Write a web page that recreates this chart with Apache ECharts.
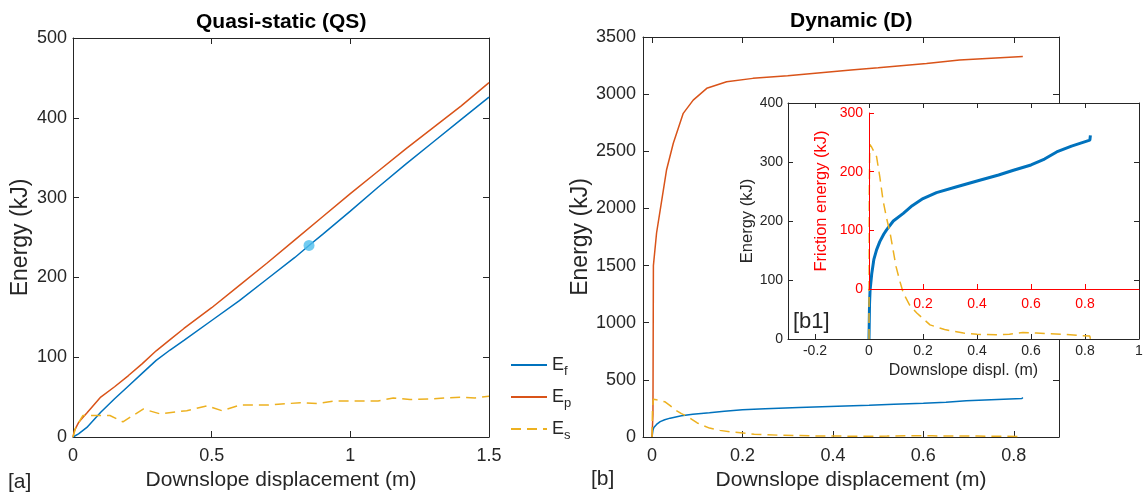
<!DOCTYPE html>
<html>
<head>
<meta charset="utf-8">
<script src="https://cdn.jsdelivr.net/npm/echarts@6/dist/echarts.min.js"></script>
<style>
  html, body { margin: 0; background: #fff; }
  #chart { width: 1146px; height: 496px; }
</style>
</head>
<body>
<div id="chart"></div>
<script>
// Quasi-static (QS) run, [downslope displacement (m), energy (kJ)]
var qsEf = [[0,0],[0.02,4],[0.05,12],[0.1,31],[0.15,48],[0.2,64],[0.25,80],[0.3,96],[0.35,109],[0.4,121],[0.5,146],[0.6,171],[0.7,198],[0.8,225],[0.851,240],[0.9,254],[1.0,283],[1.1,313],[1.2,342],[1.3,370],[1.4,398],[1.5,426]];
var qsEp = [[0,0],[0.005,8],[0.02,18],[0.037,25],[0.05,30],[0.1,50],[0.15,63],[0.2,77],[0.25,92],[0.3,108],[0.35,122],[0.4,136],[0.5,162],[0.6,190],[0.7,218],[0.8,247],[0.9,276],[1.0,305],[1.1,333],[1.2,361],[1.3,388],[1.4,415],[1.5,444]];
var qsEs = [[0,0],[0.01,12],[0.036,27],[0.08,27],[0.133,27],[0.18,19],[0.253,35],[0.314,29],[0.41,33],[0.483,39],[0.537,33],[0.603,40],[0.7,40],[0.82,43],[0.88,42],[0.94,45],[1.1,45],[1.155,49],[1.215,47],[1.3,48],[1.4,50],[1.45,49],[1.5,51]];
var qsMarker = [[0.851, 240]];

// Dynamic (D) run
var dEf = [[0,0],[0.002,60],[0.004,83],[0.01,110],[0.018,135],[0.028,151],[0.04,165],[0.055,178],[0.065,185],[0.09,200],[0.127,213],[0.16,226],[0.2,238],[0.25,248],[0.325,258],[0.41,269],[0.48,278],[0.535,286],[0.6,295],[0.65,305],[0.695,317],[0.75,327],[0.818,337],[0.82,345]];
var dEp = [[0,0],[0.002,200],[0.003,1500],[0.01,1785],[0.018,1986],[0.032,2336],[0.047,2570],[0.069,2832],[0.091,2948],[0.121,3051],[0.165,3109],[0.223,3138],[0.3,3160],[0.44,3211],[0.5,3230],[0.607,3269],[0.68,3298],[0.75,3315],[0.82,3330]];
var dEs = [[0,0],[0.001,250],[0.003,330],[0.01,325],[0.028,309],[0.04,275],[0.052,235],[0.065,205],[0.078,180],[0.1,123],[0.113,100],[0.127,78],[0.15,58],[0.177,44],[0.226,24],[0.28,16],[0.35,10],[0.4,8],[0.47,7],[0.52,8],[0.57,11],[0.62,10],[0.66,9],[0.72,8],[0.78,6],[0.818,5],[0.82,0]];

var dTicks = [0, 0.2, 0.4, 0.6, 0.8];
var insetTicks = [-0.2, 0, 0.2, 0.4, 0.6, 0.8, 1];
var frictionXTicks = [0.2, 0.4, 0.6, 0.8];

var ink = '#262626';
var cBlue = '#0072BD', cOrange = '#D95319', cYellow = '#EDB120', cMarker = '#4DBEEE', cRed = '#FF0000';
var font = 'Helvetica, "Liberation Sans", Arial, sans-serif';

function plain(v) { return String(+(+v).toFixed(6)); }

function axis(grid, pos, min, max, o) {
  o = o || {};
  var col = o.color || ink;
  var a = {
    type: 'value', gridIndex: grid, position: pos, min: min, max: max,
    splitLine: { show: false },
    axisLine: { show: true, onZero: false, lineStyle: { color: col, width: 1 } },
    axisTick: { show: true, inside: true, length: o.tick || 6, lineStyle: { color: col } },
    axisLabel: { show: !!o.labels, color: col, fontSize: o.fs || 18, fontFamily: font, margin: o.margin || 8, formatter: plain },
    z: o.z || 0
  };
  if (o.interval) a.interval = o.interval;
  if (o.ticks) { a.axisTick.customValues = o.ticks; a.axisLabel.customValues = o.ticks; }
  if (o.name) {
    a.name = o.name; a.nameLocation = 'middle'; a.nameGap = o.gap;
    a.nameTextStyle = { color: col, fontSize: o.nfs || 21, fontFamily: font };
  }
  return a;
}

function line(name, data, color, xi, yi, o) {
  o = o || {};
  return {
    name: name, type: 'line', data: data, xAxisIndex: xi, yAxisIndex: yi,
    showSymbol: false, symbol: 'none', animation: false, clip: true,
    lineStyle: { color: color, width: o.width || 1.5, type: o.dash ? [10, 6] : 'solid' },
    itemStyle: { color: color }, z: o.z || 2
  };
}

var chart = echarts.init(document.getElementById('chart'));
chart.setOption({
  animation: false,
  textStyle: { fontFamily: font },
  grid: [
    { left: 73, right: 657, top: 38, bottom: 58 },
    { left: 643, right: 87, top: 37, bottom: 59 },
    { left: 788, right: 7, top: 103, bottom: 157, show: true, backgroundColor: '#fff', borderWidth: 0, z: 5 },
    { left: 869, right: 7, top: 113, bottom: 207, z: 8 }
  ],
  xAxis: [
    axis(0, 'bottom', 0, 1.5, { interval: 0.5, labels: true, margin: 10, name: 'Downslope displacement (m)', gap: 33 }),
    axis(0, 'top', 0, 1.5, { interval: 0.5 }),
    axis(1, 'bottom', -0.02, 0.9, { ticks: dTicks, labels: true, margin: 10, name: 'Downslope displacement (m)', gap: 33 }),
    axis(1, 'top', -0.02, 0.9, { ticks: dTicks }),
    axis(2, 'bottom', -0.3, 1, { ticks: insetTicks, labels: true, fs: 14, margin: 5, tick: 5, z: 6, name: 'Downslope displ. (m)', gap: 24, nfs: 16 }),
    axis(2, 'top', -0.3, 1, { ticks: insetTicks, tick: 5, z: 6 }),
    axis(3, 'bottom', 0, 1, { ticks: frictionXTicks, labels: true, fs: 14, margin: 8, tick: 5, color: cRed, z: 9 })
  ],
  yAxis: [
    axis(0, 'left', 0, 500, { interval: 100, labels: true, margin: 6, name: 'Energy (kJ)', gap: 41, nfs: 23 }),
    axis(0, 'right', 0, 500, { interval: 100 }),
    axis(1, 'left', 0, 3500, { interval: 500, labels: true, margin: 7, name: 'Energy (kJ)', gap: 51, nfs: 23 }),
    axis(1, 'right', 0, 3500, { interval: 500 }),
    axis(2, 'left', 0, 400, { interval: 100, labels: true, fs: 14, margin: 5, tick: 5, z: 6, name: 'Energy (kJ)', gap: 30, nfs: 16.5 }),
    axis(2, 'right', 0, 400, { interval: 100, tick: 5, z: 6 }),
    axis(3, 'left', 0, 300, { interval: 100, labels: true, fs: 14, margin: 6, tick: 5, color: cRed, z: 9, name: 'Friction energy (kJ)', gap: 39, nfs: 16.5 })
  ],
  legend: {
    orient: 'vertical', left: 510, top: 356, padding: 0, itemWidth: 36, itemHeight: 14, itemGap: 10.5,
    data: ['Ef', 'Ep', 'Es'],
    itemStyle: { opacity: 0 },
    formatter: function (n) { return '{e|E}{s|' + n.charAt(1) + '}'; },
    textStyle: {
      color: ink, fontFamily: font,
      rich: {
        e: { fontSize: 18, fontFamily: font, color: ink, lineHeight: 20 },
        s: { fontSize: 13, fontFamily: font, color: ink, padding: [12, 0, 0, 0] }
      }
    }
  },
  graphic: [
    { type: 'text', left: 196, top: 12, style: { text: 'Quasi-static (QS)', font: 'bold 21px ' + font, fill: '#000' } },
    { type: 'text', left: 790, top: 11, style: { text: 'Dynamic (D)', font: 'bold 21px ' + font, fill: '#000' } },
    { type: 'text', left: 8, top: 472, style: { text: '[a]', font: '21px ' + font, fill: ink } },
    { type: 'text', left: 591, top: 469, style: { text: '[b]', font: '21px ' + font, fill: ink } },
    { type: 'text', left: 793, top: 311, z: 100, style: { text: '[b1]', font: '22px ' + font, fill: ink } }
  ],
  series: [
    line('Ef', qsEf, cBlue, 0, 0),
    line('Ep', qsEp, cOrange, 0, 0),
    line('Es', qsEs, cYellow, 0, 0, { dash: true }),
    { name: 'marker', type: 'scatter', data: qsMarker, xAxisIndex: 0, yAxisIndex: 0, symbolSize: 11, itemStyle: { color: cMarker }, z: 3 },
    line('Ef D', dEf, cBlue, 2, 2),
    line('Ep D', dEp, cOrange, 2, 2),
    line('Es D', dEs, cYellow, 2, 2, { dash: true }),
    line('Ef inset', dEf, cBlue, 4, 4, { width: 3, z: 7 }),
    line('Es inset', dEs, cYellow, 4, 4, { dash: true, z: 7 })
  ]
});
</script>
</body>
</html>
